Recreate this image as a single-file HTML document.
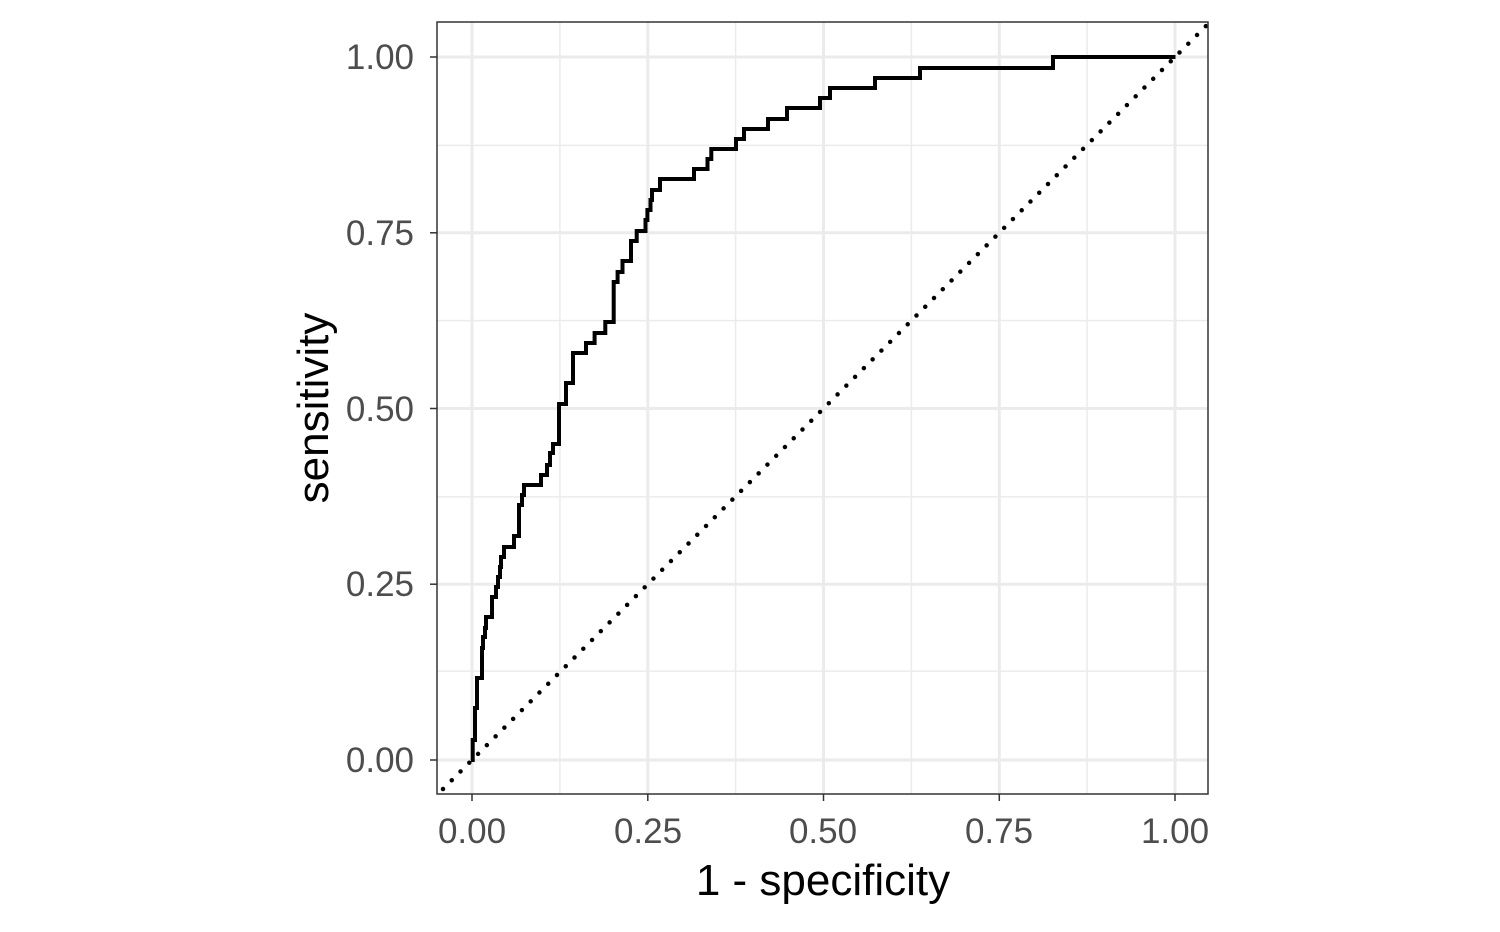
<!DOCTYPE html>
<html><head><style>body{margin:0;background:#fff}</style></head><body>
<svg width="1500" height="927" xmlns="http://www.w3.org/2000/svg" font-family="Liberation Sans, Arial, sans-serif">
<rect width="1500" height="927" fill="#fff"/>
<g stroke="#ebebeb" stroke-width="1.5">
<line x1="437" x2="1208" y1="671.1" y2="671.1"/><line x1="437" x2="1208" y1="496.9" y2="496.9"/><line x1="437" x2="1208" y1="320.6" y2="320.6"/><line x1="437" x2="1208" y1="145.4" y2="145.4"/>
<line y1="22" y2="794" x1="559.9" x2="559.9"/><line y1="22" y2="794" x1="735.6" x2="735.6"/><line y1="22" y2="794" x1="911.4" x2="911.4"/><line y1="22" y2="794" x1="1087.1" x2="1087.1"/>
</g>
<g stroke="#ebebeb" stroke-width="3">
<line x1="437" x2="1208" y1="760" y2="760"/><line x1="437" x2="1208" y1="584.2" y2="584.2"/><line x1="437" x2="1208" y1="408.5" y2="408.5"/><line x1="437" x2="1208" y1="232.8" y2="232.8"/><line x1="437" x2="1208" y1="57" y2="57"/>
<line y1="22" y2="794" x1="472" x2="472"/><line y1="22" y2="794" x1="647.8" x2="647.8"/><line y1="22" y2="794" x1="823.5" x2="823.5"/><line y1="22" y2="794" x1="999.3" x2="999.3"/><line y1="22" y2="794" x1="1175" x2="1175"/>
</g>
<line x1="443" y1="789" x2="1208" y2="24" stroke="#000" stroke-width="4.5" stroke-dasharray="0 12.4" stroke-linecap="round"/>
<path fill="none" stroke="#000" stroke-width="4" d="M471,760 L472.7,760 L472.7,740 L475,740 L475,708 L477,708 L477,678 L482,678 L482,648 L483,648 L483,637 L485,637 L485,628 L486,628 L486,617 L492,617 L492,597 L496,597 L496,587 L498,587 L498,577 L500,577 L500,567 L501,567 L501,557 L504,557 L504,547 L514,547 L514,536 L519,536 L519,505 L522,505 L522,495 L524,495 L524,485 L541,485 L541,475 L547,475 L547,465 L550,465 L550,453 L553,453 L553,444 L559,444 L559,404 L566,404 L566,383 L573,383 L573,353 L586,353 L586,343 L594.6,343 L594.6,333 L605.3,333 L605.3,322 L613.7,322 L613.7,282 L617.6,282 L617.6,272 L622.5,272 L622.5,261 L631,261 L631,241 L636.7,241 L636.7,231 L645.5,231 L645.5,220 L647.4,220 L647.4,210 L650.5,210 L650.5,200 L652,200 L652,190 L660,190 L660,179 L694,179 L694,169 L707.5,169 L707.5,159 L711.3,159 L711.3,149 L736,149 L736,139 L744,139 L744,129 L768,129 L768,119 L787,119 L787,108 L820,108 L820,98 L830,98 L830,88 L875,88 L875,78 L920,78 L920,68 L1053,68 L1053,57 L1175.5,57"/>
<rect x="437" y="22" width="771" height="772" fill="none" stroke="#333" stroke-width="1.5"/>
<g stroke="#333" stroke-width="1.5">
<line x1="430" x2="437" y1="760" y2="760"/><line x1="430" x2="437" y1="584.2" y2="584.2"/><line x1="430" x2="437" y1="408.5" y2="408.5"/><line x1="430" x2="437" y1="232.8" y2="232.8"/><line x1="430" x2="437" y1="57" y2="57"/>
<line y1="794" y2="801" x1="472" x2="472"/><line y1="794" y2="801" x1="647.8" x2="647.8"/><line y1="794" y2="801" x1="823.5" x2="823.5"/><line y1="794" y2="801" x1="999.3" x2="999.3"/><line y1="794" y2="801" x1="1175" x2="1175"/>
</g>
<g fill="#4d4d4d" font-size="35" text-anchor="end">
<text x="414" y="772">0.00</text><text x="414" y="596">0.25</text><text x="414" y="421">0.50</text><text x="414" y="245">0.75</text><text x="414" y="69">1.00</text>
</g>
<g fill="#4d4d4d" font-size="35" text-anchor="middle">
<text x="472" y="843">0.00</text><text x="648" y="843">0.25</text><text x="823" y="843">0.50</text><text x="999" y="843">0.75</text><text x="1175" y="843">1.00</text>
</g>
<text x="823" y="895" font-size="44" text-anchor="middle" fill="#000">1 - specificity</text>
<text transform="translate(328,408) rotate(-90)" font-size="44" text-anchor="middle" fill="#000">sensitivity</text>
</svg>
</body></html>
